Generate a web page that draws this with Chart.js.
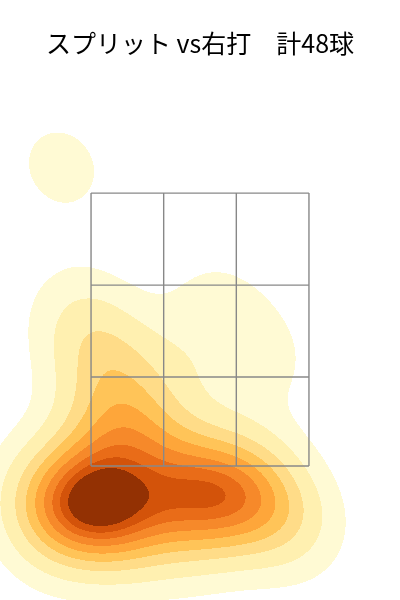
<!DOCTYPE html>
<html>
<head>
<meta charset="utf-8">
<script src="https://cdn.jsdelivr.net/npm/chart.js@4"></script>
<style>
  body { margin: 0; background: #fff; }
  #wrap { width: 400px; height: 600px; }
</style>
</head>
<body>
<div id="wrap"><canvas id="myChart"></canvas></div>
<script>
// 投球位置 (ft) - 画像から読み取り
const plateX = [
  -0.96, -0.90, -0.86, -0.80, -0.74, -0.72, -0.67, -0.64, -0.57, -0.51, -0.61,
  -0.69, -0.43, 0.00, 0.19,
  -0.32, -0.23, -0.13, -0.04, 0.05, 0.12, 0.18, 0.26, 0.33, 0.42,
  0.52, 0.60,
  -0.46, -0.13,
  -0.96, -1.01,
  -0.62, -0.49, -0.52, -0.23, -0.65, -0.03, -0.46, -0.36,
  -0.77, -0.68, -0.70, -0.49,
  0.12, 0.38, -0.16,
  -0.90,
  0.33
];
const plateZ = [
  1.21, 1.27, 1.14, 1.23, 1.18, 1.30, 1.12, 1.19, 1.27, 1.19, 1.35,
  1.25, 1.16, 1.21, 1.32,
  1.25, 1.27, 1.25, 1.27, 1.26, 1.28, 1.25, 1.27, 1.26, 1.25,
  1.16, 1.09,
  1.03, 1.02,
  1.19, 1.03,
  1.56, 1.69, 1.95, 1.53, 1.69, 1.58, 1.84, 1.76,
  2.58, 2.44, 2.19, 2.26,
  2.63, 2.31, 2.20,
  3.69,
  1.54
];

// ストライクゾーン
const zoneX = [-0.708, -0.236, 0.236, 0.708];
const zoneZ = [1.5, 2.152, 2.826, 3.5];

const bandColors = [
  '#FFFAD4', '#FFF0B0', '#FFDC88', '#FFC458', '#FEA63A',
  '#F6892A', '#E96C18', '#D3530A', '#933103'
];
const nLevels = 10;
const thresh = 0.05;

// KDE (scott)
const n = plateX.length;
const mx = plateX.reduce((a, b) => a + b, 0) / n;
const mz = plateZ.reduce((a, b) => a + b, 0) / n;
let sxx = 0, szz = 0, sxz = 0;
for (let i = 0; i < n; i++) {
  const dx = plateX[i] - mx, dz = plateZ[i] - mz;
  sxx += dx * dx; szz += dz * dz; sxz += dx * dz;
}
sxx /= (n - 1); szz /= (n - 1); sxz /= (n - 1);
const factor = Math.pow(n, -1 / 6);
const cxx = sxx * factor * factor, czz = szz * factor * factor, cxz = sxz * factor * factor;
const det = cxx * czz - cxz * cxz;
const ixx = czz / det, izz = cxx / det, ixz = -cxz / det;

function density(x, z) {
  let s = 0;
  for (let i = 0; i < n; i++) {
    const dx = x - plateX[i], dz = z - plateZ[i];
    s += Math.exp(-0.5 * (dx * dx * ixx + 2 * dx * dz * ixz + dz * dz * izz));
  }
  return s;
}

// seaborn と同じ等確率レベル
function computeLevels() {
  const bwx = Math.sqrt(cxx), bwz = Math.sqrt(czz);
  const x0 = Math.min(...plateX) - 3 * bwx, x1 = Math.max(...plateX) + 3 * bwx;
  const z0 = Math.min(...plateZ) - 3 * bwz, z1 = Math.max(...plateZ) + 3 * bwz;
  const g = 200, vals = [];
  for (let i = 0; i < g; i++) {
    for (let j = 0; j < g; j++) {
      vals.push(density(x0 + (x1 - x0) * i / (g - 1), z0 + (z1 - z0) * j / (g - 1)));
    }
  }
  const sorted = vals.slice().sort((a, b) => b - a);
  const total = sorted.reduce((a, b) => a + b, 0);
  const cum = [];
  let c = 0;
  for (const v of sorted) { c += v; cum.push(c / total); }
  const levels = [];
  for (let k = 0; k < nLevels; k++) {
    const q = thresh + (1 - thresh) * k / (nLevels - 1);
    const target = 1 - q;
    let idx = cum.findIndex(v => v >= target);
    if (idx < 0) idx = sorted.length - 1;
    levels.push(sorted[idx]);
  }
  return { levels, x0, x1, z0, z1 };
}
const kde = computeLevels();

function hexToRgb(h) {
  return [parseInt(h.slice(1, 3), 16), parseInt(h.slice(3, 5), 16), parseInt(h.slice(5, 7), 16)];
}
const bandRgb = bandColors.map(hexToRgb);

const kdePlugin = {
  id: 'kdeFill',
  beforeDatasetsDraw(chart) {
    const { ctx, chartArea, scales } = chart;
    const w = Math.round(chartArea.right - chartArea.left);
    const h = Math.round(chartArea.bottom - chartArea.top);
    const img = ctx.createImageData(w, h);
    const lv = kde.levels;
    for (let py = 0; py < h; py++) {
      const z = scales.y.getValueForPixel(chartArea.top + py + 0.5);
      for (let px = 0; px < w; px++) {
        const x = scales.x.getValueForPixel(chartArea.left + px + 0.5);
        if (x < kde.x0 || x > kde.x1 || z < kde.z0 || z > kde.z1) continue;
        const d = density(x, z);
        if (d < lv[0]) continue;
        let b = 0;
        while (b < bandColors.length - 1 && d >= lv[b + 1]) b++;
        const o = (py * w + px) * 4;
        img.data[o] = bandRgb[b][0];
        img.data[o + 1] = bandRgb[b][1];
        img.data[o + 2] = bandRgb[b][2];
        img.data[o + 3] = 255;
      }
    }
    const tmp = document.createElement('canvas');
    tmp.width = w; tmp.height = h;
    tmp.getContext('2d').putImageData(img, 0, 0);
    ctx.drawImage(tmp, Math.round(chartArea.left), Math.round(chartArea.top));
  }
};

// ゾーンの線
const zoneSets = [];
zoneX.forEach(x => zoneSets.push({
  data: [{ x: x, y: zoneZ[0] }, { x: x, y: zoneZ[3] }]
}));
zoneZ.forEach(z => zoneSets.push({
  data: [{ x: zoneX[0], y: z }, { x: zoneX[3], y: z }]
}));
zoneSets.forEach(ds => {
  ds.type = 'line';
  ds.borderColor = '#888888';
  ds.borderWidth = 1.4;
  ds.pointRadius = 0;
  ds.fill = false;
});

new Chart(document.getElementById('myChart').getContext('2d'), {
  type: 'scatter',
  data: { datasets: zoneSets },
  options: {
    responsive: true,
    maintainAspectRatio: false,
    animation: false,
    layout: { padding: 0 },
    plugins: {
      legend: { display: false },
      tooltip: { enabled: false },
      title: {
        display: true,
        text: 'スプリット vs右打　計48球',
        color: '#000',
        font: { family: '"Noto Sans CJK JP"', size: 25, weight: 'normal' },
        padding: { top: 28, bottom: 22 }
      }
    },
    scales: {
      x: { type: 'linear', display: false, min: -1.2996, max: 1.2996 },
      y: { type: 'linear', display: false, min: 0.518, max: 4.329 }
    }
  },
  plugins: [kdePlugin]
});
</script>
</body>
</html>
